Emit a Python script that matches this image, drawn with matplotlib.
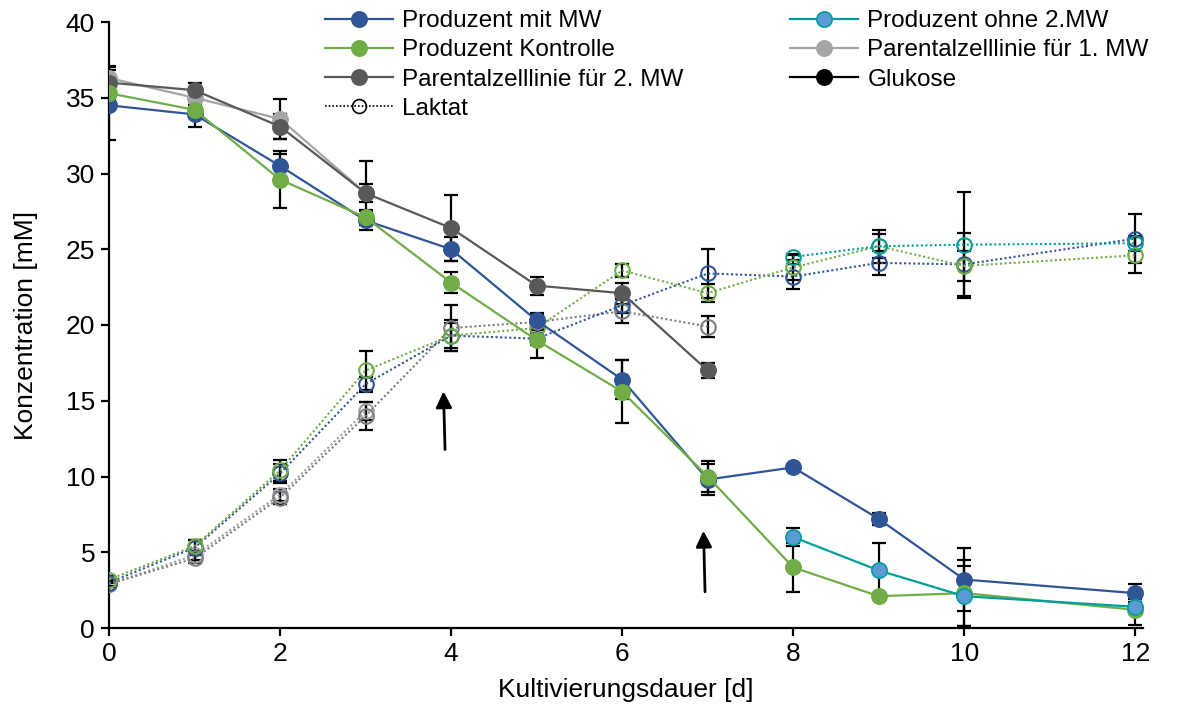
import matplotlib
matplotlib.use("Agg")
import matplotlib.pyplot as plt
from matplotlib.lines import Line2D

plt.rcParams['font.family'] = ['Liberation Sans', 'DejaVu Sans']

# Tage
days = [0, 1, 2, 3, 4, 5, 6, 7, 8, 9, 10, 12]
days_ohne = [8, 9, 10, 12]
days_par1 = [0, 1, 2, 3]
days_par2 = [0, 1, 2, 3, 4, 5, 6, 7]

# Glukose [mM]
glc_mit = [34.5, 33.9, 30.5, 26.9, 25.0, 20.3, 16.4, 9.8, 10.6, 7.2, 3.2, 2.3]
glc_mit_sd = [2.3, 0.8, 0.8, 0.6, 0.8, 0.5, 1.3, 1.0, 0.2, 0.4, 2.1, 0.6]
glc_kon = [35.3, 34.2, 29.6, 27.1, 22.8, 19.0, 15.6, 10.0, 4.0, 2.1, 2.3, 1.2]
glc_kon_sd = [0.4, 0.3, 1.9, 0.5, 0.7, 1.2, 2.1, 1.0, 1.6, 0.2, 2.2, 1.0]
glc_ohne = [6.0, 3.8, 2.1, 1.4]
glc_ohne_sd = [0.6, 1.8, 2.0, 0.5]
glc_par1 = [36.3, 35.0, 33.6, 28.7]
glc_par1_sd = [0.8, 0.5, 1.3, 0.6]
glc_par2 = [36.0, 35.5, 33.1, 28.7, 26.4, 22.6, 22.1, 17.0]
glc_par2_sd = [1.0, 0.5, 0.8, 2.1, 2.2, 0.6, 0.7, 0.5]

# Laktat [mM]
lac_mit = [3.0, 5.3, 10.2, 16.1, 19.3, 19.1, 21.3, 23.4, 23.2, 24.1, 24.0, 25.7]
lac_mit_sd = [0.2, 0.5, 0.6, 0.5, 0.8, 0.4, 0.5, 1.6, 0.8, 0.8, 2.1, 1.6]
lac_kon = [3.2, 5.4, 10.4, 17.0, 19.3, 19.8, 23.6, 22.1, 23.8, 25.2, 23.9, 24.6]
lac_kon_sd = [0.2, 0.4, 0.7, 1.3, 1.0, 0.6, 0.4, 0.6, 0.8, 1.1, 1.0, 1.2]
lac_ohne = [24.5, 25.2, 25.3, 25.4]
lac_ohne_sd = [0.2, 0.8, 3.5, 0.5]
lac_par1 = [2.9, 4.8, 8.8, 14.3]
lac_par1_sd = [0.2, 0.3, 0.4, 0.6]
lac_par2 = [2.9, 4.6, 8.6, 14.0, 19.8, 20.2, 20.9, 19.9]
lac_par2_sd = [0.2, 0.3, 0.4, 0.9, 1.5, 0.5, 0.8, 0.7]

# Pfeile (Zugabe): x, y-Ende, y-Spitze
arrow_x = [3.93, 6.97]
arrow_tail = [11.6, 2.2]
arrow_tip = [15.8, 6.6]

BLUE = '#2F5597'
GREEN = '#70AD47'
TEAL = '#009E9A'
LBLUE = '#5B9BD5'
LGRAY = '#A5A5A5'
DGRAY = '#595959'
LACGRAY = '#7F7F7F'

fig = plt.figure(figsize=(11.79, 7.04), dpi=100)
ax = fig.add_axes([109 / 1179, 76 / 704, (1143 - 109) / 1179, (628 - 22) / 704])

series = [
    (days_par1, glc_par1, glc_par1_sd, lac_par1, lac_par1_sd, LGRAY, LGRAY, LGRAY, '#A0A0A0'),
    (days_par2, glc_par2, glc_par2_sd, lac_par2, lac_par2_sd, DGRAY, DGRAY, DGRAY, LACGRAY),
    (days, glc_mit, glc_mit_sd, lac_mit, lac_mit_sd, BLUE, BLUE, BLUE, BLUE),
    (days, glc_kon, glc_kon_sd, lac_kon, lac_kon_sd, GREEN, GREEN, GREEN, GREEN),
    (days_ohne, glc_ohne, glc_ohne_sd, lac_ohne, lac_ohne_sd, TEAL, LBLUE, TEAL, TEAL),
]

for x, g, gsd, l, lsd, lc, mfc, mec, lacc in series:
    ax.errorbar(x, g, yerr=gsd, fmt='none', ecolor='black', elinewidth=1.6,
                capsize=5, capthick=1.6, zorder=2)
    ax.errorbar(x, l, yerr=lsd, fmt='none', ecolor='black', elinewidth=1.6,
                capsize=5, capthick=1.6, zorder=2)
    ax.plot(x, l, linestyle=(0, (1, 1.2)), color=lacc, lw=1.5, marker='o',
            markersize=10.5, markerfacecolor='none', markeredgecolor=lacc,
            markeredgewidth=1.5, zorder=3)
    ax.plot(x, g, linestyle='-', color=lc, lw=1.6, marker='o', markersize=11,
            markerfacecolor=mfc, markeredgecolor=mec, markeredgewidth=1.2, zorder=4)

for xa, yt, yh in zip(arrow_x, arrow_tail, arrow_tip):
    ax.annotate('', xy=(xa - 0.02, yh), xytext=(xa, yt),
                arrowprops=dict(arrowstyle='-|>', color='black', lw=2,
                                mutation_scale=24), zorder=5)

ax.set_xlim(0, 12.09)
ax.set_ylim(0, 40)
ax.set_xticks([0, 2, 4, 6, 8, 10, 12])
ax.set_yticks(range(0, 41, 5))
for s in ['top', 'right']:
    ax.spines[s].set_visible(False)
for s in ['left', 'bottom']:
    ax.spines[s].set_linewidth(1.6)
ax.tick_params(direction='out', length=6, width=1.6, labelsize=19, pad=4)
ax.set_xlabel('Kultivierungsdauer [d]', fontsize=19, labelpad=9)
ax.set_ylabel('Konzentration [mM]', fontsize=19, labelpad=20)

def handle(lc, mfc, mec, ls='-'):
    return Line2D([0], [0], color=lc, lw=1.6, linestyle=ls, marker='o', markersize=11,
                  markerfacecolor=mfc, markeredgecolor=mec, markeredgewidth=1.2)

handles = [
    handle(BLUE, BLUE, BLUE),
    handle(GREEN, GREEN, GREEN),
    handle(DGRAY, DGRAY, DGRAY),
    Line2D([0], [0], color='black', lw=1.2, linestyle=(0, (1, 1.2)), marker='o',
           markersize=10, markerfacecolor='none', markeredgecolor='black',
           markeredgewidth=1.2),
    handle(TEAL, LBLUE, TEAL),
    handle(LGRAY, LGRAY, LGRAY),
    handle('black', 'black', 'black'),
]
labels = ['Produzent mit MW', 'Produzent Kontrolle', 'Parentalzelllinie für 2. MW',
          'Laktat', 'Produzent ohne 2.MW', 'Parentalzelllinie für 1. MW', 'Glukose']

fig.legend(handles, labels, loc='upper left', bbox_to_anchor=(325 / 1179, 1 - 10 / 704),
           ncol=2, frameon=False, fontsize=17.5, handlelength=2.8, handletextpad=0.37,
           columnspacing=4.4, labelspacing=0.3, borderpad=0, borderaxespad=0)

fig.savefig('out.png', dpi=100)
